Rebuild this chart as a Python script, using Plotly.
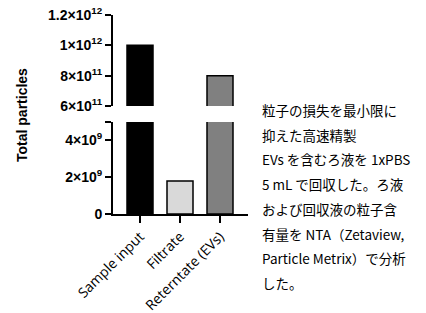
import plotly.graph_objects as go

categories = ["Sample input", "Filtrate", "Reterntate (EVs)"]
values = [1.0e12, 1.8e9, 8.0e11]
colors = ["#000000", "#d9d9d9", "#808080"]

top_tickvals = [6e11, 8e11, 1e12, 1.2e12]
top_ticktext = ["6×10<sup>11</sup>", "8×10<sup>11</sup>", "1×10<sup>12</sup>", "1.2×10<sup>12</sup>"]
bot_tickvals = [0, 2e9, 4e9, 5e9]
bot_ticktext = ["0", "2×10<sup>9</sup>", "4×10<sup>9</sup>", ""]

note_lines = [
    "粒子の損失を最小限に",
    "抑えた高速精製",
    "EVs を含むろ液を 1xPBS",
    "5 mL で回収した。ろ液",
    "および回収液の粒子含",
    "有量を NTA（Zetaview,",
    "Particle Metrix）で分析",
    "した。",
]

W, H = 426, 313
OFF = 0  # page body margin removed via post_script


def px_x(x):
    return (x - OFF) / W


def px_y(y):
    return (H - (y - OFF)) / H


fig = go.Figure()
bar_kw = dict(x=categories, y=values, width=0.65,
              marker=dict(color=colors, line=dict(color="black", width=1.5)),
              showlegend=False, hoverinfo="skip")
fig.add_trace(go.Bar(xaxis="x", yaxis="y", **bar_kw))
fig.add_trace(go.Bar(xaxis="x2", yaxis="y2", **bar_kw))

xdom = [px_x(113), px_x(248)]
xrange = [-0.675, 2.7]
yfont = dict(family="Liberation Sans, Arial", size=14, color="black", weight="bold")
yax_common = dict(showline=True, linecolor="black", linewidth=2, ticks="outside", ticklen=6,
                  tickwidth=2, tickcolor="black", tickfont=yfont, showgrid=False,
                  zeroline=False, automargin=False, ticklabeloverflow="allow")

fig.update_layout(
    width=W, height=H,
    margin=dict(l=0, r=0, t=0, b=0, autoexpand=False),
    plot_bgcolor="white", paper_bgcolor="white",
    xaxis=dict(domain=xdom, range=xrange, anchor="y", showline=True, linecolor="black",
               linewidth=2, ticks="outside", ticklen=7, tickwidth=2, tickcolor="black",
               tickangle=-45, tickfont=dict(family="Open Sans", size=14, color="black"),
               showgrid=False, zeroline=False, automargin=False, ticklabeloverflow="allow"),
    xaxis2=dict(domain=xdom, range=xrange, anchor="y2", visible=False, showgrid=False,
                automargin=False),
    yaxis=dict(domain=[px_y(214), px_y(122)], range=[0, 5.0001e9], anchor="x",
               tickvals=bot_tickvals, ticktext=bot_ticktext, **yax_common),
    yaxis2=dict(domain=[px_y(106), px_y(15)], range=[6e11, 1.2001e12], anchor="x2",
                tickvals=top_tickvals, ticktext=top_ticktext, **yax_common),
)

fig.add_annotation(text="<b>Total particles</b>", textangle=-90, x=px_x(22), y=px_y(115),
                   xref="paper", yref="paper", xanchor="center", yanchor="middle",
                   showarrow=False,
                   font=dict(family="Liberation Sans, Arial", size=14, color="black"))

for i, line in enumerate(note_lines):
    fig.add_annotation(text=line, x=px_x(260), y=px_y(110 + 24.7 * i),
                       xref="paper", yref="paper", xanchor="left", yanchor="middle",
                       align="left", showarrow=False,
                       font=dict(family="Noto Sans CJK JP", size=13.5, color="black"))

fig.write_html("out.html", config={"displayModeBar": False},
               post_script="document.body.style.margin='0px';")
